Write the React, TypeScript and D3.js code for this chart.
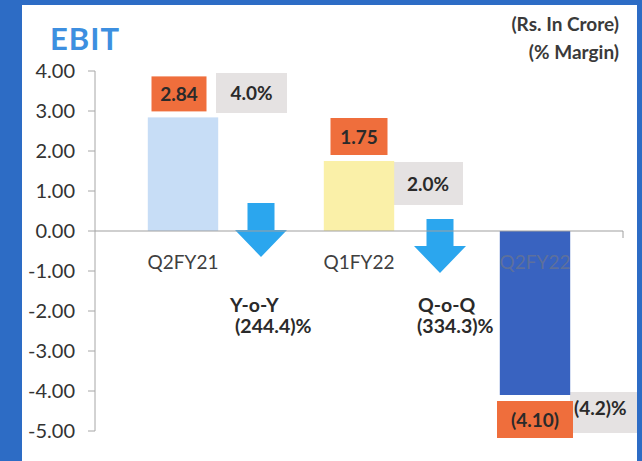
import React from "react";
import * as d3 from "d3";

const categories = ["Q2FY21", "Q1FY22", "Q2FY22"];
const ebitValues = [2.84, 1.75, -4.1];
const valueLabels = ["2.84", "1.75", "(4.10)"];
const marginLabels = ["4.0%", "2.0%", "(4.2)%"];
const yTicks = [4, 3, 2, 1, 0, -1, -2, -3, -4, -5];
const changeTitles = ["Y-o-Y", "Q-o-Q"];
const changeValues = ["(244.4)%", "(334.3)%"];

const W = 642;
const H = 461;
const FONT = "Lato, 'Open Sans', sans-serif";
const barColors = ["#c7ddf6", "#faf0a8", "#3963c0"];
const labelColors = ["#404040", "#404040", "#5d709c"];

// layout (not data)
const valueBox = [
  { w: 55, h: 35, dx: -4 },
  { w: 57, h: 37, dx: 0 },
  { w: 76, h: 37, dx: 0 },
];
const marginBox = [
  { x0: 216, y0: 73, w: 71, h: 40 },
  { x0: 393, y0: 162, w: 70, h: 43 },
  { x0: 570, y0: 392, w: 67, h: 41 },
];
const arrows = [
  { cx: 261, top: 203 },
  { cx: 440, top: 219 },
];
const changeText = [
  { x1: 230, x2: 235 },
  { x1: 418, x2: 417 },
];

const tickFormat = d3.formatLocale({
  decimal: ".",
  thousands: ",",
  grouping: [3],
  currency: ["", ""],
  minus: "-",
}).format(".2f");

export default function App() {
  const y = d3.scaleLinear().domain([-5, 4]).range([431, 71]);
  const x = d3.scaleBand<string>().domain(categories).range([95, 623]).padding(0);
  const bw = x.bandwidth() * 0.4;
  const y0 = y(0);

  const arrowPath = (cx: number, top: number) => {
    const p = d3.path();
    const sw = 13.5, hw = 26, sl = 27, hl = 27;
    p.moveTo(cx - sw, top);
    p.lineTo(cx + sw, top);
    p.lineTo(cx + sw, top + sl);
    p.lineTo(cx + hw, top + sl);
    p.lineTo(cx, top + sl + hl);
    p.lineTo(cx - hw, top + sl);
    p.lineTo(cx - sw, top + sl);
    p.closePath();
    return p.toString();
  };

  return (
    <div style={{ position: "absolute", left: 0, top: 0 }}>
      <svg width={W} height={H} style={{ display: "block" }} fontFamily={FONT}>
        <rect x={0} y={0} width={W} height={H} fill="#2d6cc5" />
        <rect x={22} y={5} width={615} height={H - 5} fill="#ffffff" />

        {/* title */}
        <text x={50} y={50} fontSize={31} fontWeight={700} fill="#3d8fe0" letterSpacing={1}>
          EBIT
        </text>
        <text x={619} y={31} fontSize={19} fontWeight={700} fill="#3a3a3a" textAnchor="end">
          (Rs. In Crore)
        </text>
        <text x={619} y={59} fontSize={19} fontWeight={700} fill="#3a3a3a" textAnchor="end">
          (% Margin)
        </text>

        {/* margin boxes */}
        {marginLabels.map((m, i) => (
          <g key={"m" + i}>
            <rect x={marginBox[i].x0} y={marginBox[i].y0} width={marginBox[i].w} height={marginBox[i].h} fill="#e5e2e2" />
          </g>
        ))}

        {/* bars */}
        {ebitValues.map((v, i) => {
          const cx = (x(categories[i]) as number) + x.bandwidth() / 2;
          return (
            <rect
              key={"b" + i}
              x={cx - bw / 2}
              y={Math.min(y(v), y0)}
              width={bw}
              height={Math.abs(y(v) - y0)}
              fill={barColors[i]}
            />
          );
        })}

        {/* arrows */}
        {arrows.map((a, i) => (
          <path key={"a" + i} d={arrowPath(a.cx, a.top)} fill="#2ba6ee" />
        ))}

        {/* y axis */}
        <line x1={95} x2={95} y1={y(4)} y2={y(-5)} stroke="#a6a6a6" strokeWidth={1} />
        {yTicks.map((t) => (
          <g key={"t" + t}>
            <line x1={88} x2={95} y1={y(t)} y2={y(t)} stroke="#a6a6a6" />
            <text x={75} y={y(t) + 7} fontSize={20} fill="#333333" textAnchor="end">
              {tickFormat(t)}
            </text>
          </g>
        ))}
        {/* zero line */}
        <line x1={95} x2={623} y1={y0} y2={y0} stroke="#a0a0a0" strokeWidth={1.2} />
        <line x1={623} x2={623} y1={y0} y2={y0 + 7} stroke="#a0a0a0" />

        {/* category labels */}
        {categories.map((c, i) => (
          <text
            key={"c" + i}
            x={(x(c) as number) + x.bandwidth() / 2}
            y={y0 + 38}
            fontSize={19}
            fill={labelColors[i]}
            textAnchor="middle"
          >
            {c}
          </text>
        ))}

        {/* value label boxes */}
        {ebitValues.map((v, i) => {
          const cx = (x(categories[i]) as number) + x.bandwidth() / 2 + valueBox[i].dx;
          const b = valueBox[i];
          const by = v >= 0 ? y(v) - 6 - b.h : y(v) + 6;
          return (
            <g key={"v" + i}>
              <rect x={cx - b.w / 2} y={by} width={b.w} height={b.h} fill="#ef6e3c" />
              <text x={cx} y={by + b.h / 2 + 7} fontSize={19} fontWeight={700} fill="#2a2a2a" textAnchor="middle">
                {valueLabels[i]}
              </text>
            </g>
          );
        })}

        {/* margin labels */}
        {marginLabels.map((m, i) => {
          const b = marginBox[i];
          const tx = i === 2 ? b.x0 + 4 : b.x0 + b.w / 2;
          return (
            <text
              key={"mt" + i}
              x={tx}
              y={b.y0 + b.h / 2 + (i === 2 ? 2 : 7)}
              fontSize={19}
              fontWeight={700}
              fill="#2a2a2a"
              textAnchor={i === 2 ? "start" : "middle"}
            >
              {m}
            </text>
          );
        })}

        {/* change annotations */}
        {changeTitles.map((t, i) => (
          <g key={"ch" + i}>
            <text x={changeText[i].x1} y={312} fontSize={19.5} fontWeight={700} fill="#2a2a2a">
              {t}
            </text>
            <text x={changeText[i].x2} y={333} fontSize={19.5} fontWeight={700} fill="#2a2a2a">
              {changeValues[i]}
            </text>
          </g>
        ))}
      </svg>
    </div>
  );
}
